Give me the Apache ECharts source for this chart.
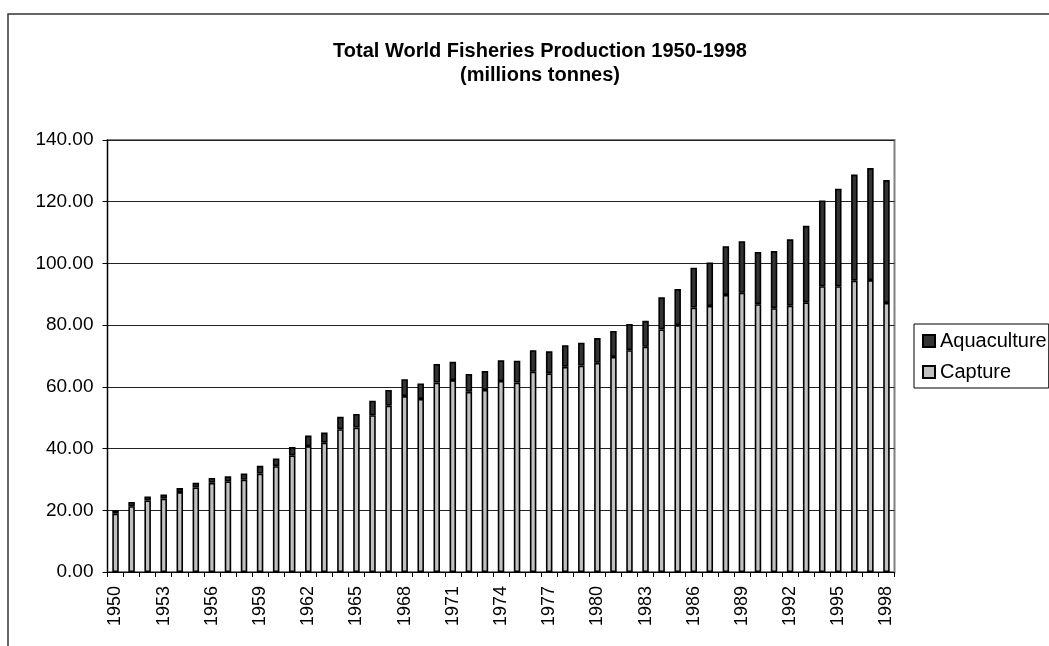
<!DOCTYPE html>
<html>
<head>
<meta charset="utf-8">
<title>Total World Fisheries Production 1950-1998</title>
<script src="https://cdn.jsdelivr.net/npm/echarts@6/dist/echarts.min.js"></script>
<style>
  html, body { margin: 0; padding: 0; background: #fff; }
  #chart { width: 1049px; height: 646px; }
</style>
</head>
<body>
<div id="chart"></div>
<script>
// Years 1950 to 1998
const years = [
  '1950','1951','1952','1953','1954','1955','1956','1957','1958','1959',
  '1960','1961','1962','1963','1964','1965','1966','1967','1968','1969',
  '1970','1971','1972','1973','1974','1975','1976','1977','1978','1979',
  '1980','1981','1982','1983','1984','1985','1986','1987','1988','1989',
  '1990','1991','1992','1993','1994','1995','1996','1997','1998'
];

// Capture fisheries, millions of tonnes
const capture = [
  18.9, 21.3, 23.2, 23.8, 25.9, 27.4, 28.9, 29.4, 29.9, 31.9,
  34.3, 37.8, 40.8, 41.9, 46.3, 46.8, 50.8, 53.9, 57.0, 56.1,
  61.4, 62.2, 58.4, 59.0, 61.9, 61.4, 64.9, 64.4, 66.5, 66.9,
  67.8, 69.7, 71.9, 73.0, 78.6, 80.0, 85.7, 86.2, 89.8, 90.5,
  86.8, 85.5, 86.3, 87.4, 92.6, 92.6, 94.4, 94.6, 87.2
];

// Aquaculture, millions of tonnes
const aquaculture = [
  1.1, 1.4, 1.3, 1.3, 1.3, 1.5, 1.6, 1.6, 2.0, 2.5,
  2.5, 2.7, 3.4, 3.3, 4.0, 4.4, 4.7, 5.1, 5.5, 5.0,
  6.0, 5.9, 5.8, 6.1, 6.7, 7.1, 7.0, 7.1, 7.0, 7.4,
  8.0, 8.4, 8.5, 8.4, 10.4, 11.7, 12.9, 14.1, 15.8, 16.7,
  16.9, 18.5, 21.5, 24.8, 27.8, 31.6, 34.4, 36.3, 39.8
];

const FONT = '"Liberation Sans", Arial, sans-serif';

const chart = echarts.init(document.getElementById('chart'), null, { renderer: 'canvas' });

chart.setOption({
  backgroundColor: '#ffffff',
  animation: false,
  textStyle: { fontFamily: FONT, color: '#000' },
  title: {
    text: 'Total World Fisheries Production 1950-1998\n(millions tonnes)',
    left: 535,
    top: 34,
    textAlign: 'center',
    textStyle: {
      fontFamily: FONT,
      fontSize: 20,
      fontWeight: 'bold',
      color: '#000',
      lineHeight: 24
    }
  },
  graphic: [
    {
      // outer chart frame
      type: 'rect',
      silent: true,
      shape: { x: 8, y: 14, width: 1100, height: 700 },
      style: { fill: 'none', stroke: '#333', lineWidth: 1.5 }
    }
  ],
  legend: {
    orient: 'vertical',
    left: 914,
    top: 324,
    data: ['Aquaculture', 'Capture'],
    icon: 'rect',
    itemWidth: 12,
    itemHeight: 12,
    itemGap: 11,
    padding: [7, 2, 6, 8],
    borderColor: '#000',
    borderWidth: 1,
    textStyle: { fontFamily: FONT, fontSize: 20, color: '#000' }
  },
  grid: {
    left: 107.5,
    right: 154.5,
    top: 140,
    bottom: 74,
    show: true,
    borderColor: '#808080',
    borderWidth: 2,
    backgroundColor: 'transparent'
  },
  xAxis: {
    type: 'category',
    data: years,
    boundaryGap: true,
    axisLine: { show: true, lineStyle: { color: '#000', width: 1 } },
    axisTick: { show: true, interval: 0, length: 5, lineStyle: { color: '#000' } },
    axisLabel: {
      interval: 2,
      rotate: 90,
      margin: 14,
      fontFamily: FONT,
      fontSize: 18,
      color: '#000'
    },
    splitLine: { show: false }
  },
  yAxis: {
    type: 'value',
    min: 0,
    max: 140,
    interval: 20,
    axisLine: { show: true, lineStyle: { color: '#000', width: 1 } },
    axisTick: { show: true, length: 5, lineStyle: { color: '#000' } },
    axisLabel: {
      margin: 14,
      fontFamily: FONT,
      fontSize: 19,
      color: '#000',
      formatter: v => v.toFixed(2)
    },
    splitLine: { show: true, lineStyle: { color: '#222', width: 1 } }
  },
  series: [
    {
      name: 'Capture',
      type: 'bar',
      stack: 'total',
      data: capture,
      barWidth: 6.5,
      itemStyle: { color: '#c0c0c0', borderColor: '#000', borderWidth: 1.6 }
    },
    {
      name: 'Aquaculture',
      type: 'bar',
      stack: 'total',
      data: aquaculture,
      barWidth: 6.5,
      itemStyle: { color: '#333333', borderColor: '#000', borderWidth: 1.6 }
    }
  ]
});
</script>
</body>
</html>
